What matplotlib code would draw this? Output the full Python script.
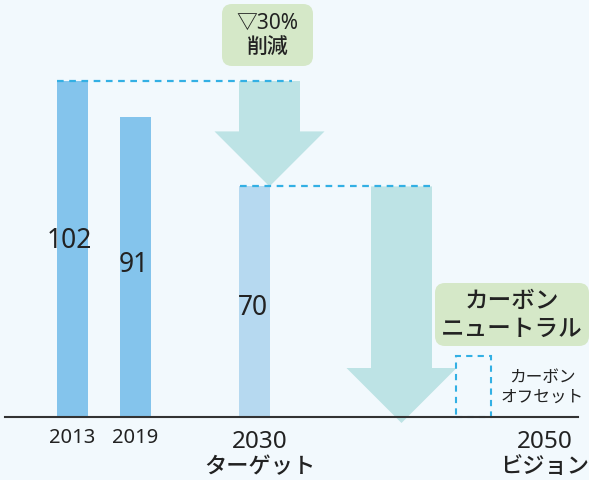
import matplotlib.pyplot as plt
from matplotlib.patches import Polygon, FancyBboxPatch, Rectangle

plt.rcParams["font.family"] = ["Noto Sans", "Noto Sans CJK JP", "DejaVu Sans"]

# data
years = ["2013", "2019"]
actual = [102, 91]
target_year = "2030"
target_sub = "ターゲット"
target = 70
vision_year = "2050"
vision_sub = "ビジョン"
cut_label = "▽30%\n削減"
neutral_label = "カーボン\nニュートラル"
offset_label = "カーボン\nオフセット"

W, H = 589, 481
base_px = 418          # baseline, pixels from top
scale = 336 / 102      # pixels per unit


def py(ypx):
    # pixel row (from top) -> value units
    return (base_px - ypx) / scale


bg = "#f2f9fd"
fig = plt.figure(figsize=(W / 100, H / 100), dpi=100, facecolor=bg)
ax = fig.add_axes([0, 0, 1, 1])
ax.set_facecolor(bg)
ax.set_xlim(0, W)
ax.set_ylim(py(H), py(0))
ax.axis("off")

bar_w = 31
x_act = [72.5, 135.5]
x_tgt = 254.5

ax.bar(x_act, actual, width=bar_w, color="#84c4ec", zorder=2)
ax.bar([x_tgt], [target], width=bar_w, color="#b6d9f0", zorder=2)

arrow_c = "#bde3e5"
head_len = 55 / scale


def down_arrow(xc, top, tip, shaft_w=61, head_w=110):
    neck = tip + head_len
    pts = [(xc - shaft_w / 2, top), (xc + shaft_w / 2, top),
           (xc + shaft_w / 2, neck), (xc + head_w / 2, neck),
           (xc, tip), (xc - head_w / 2, neck), (xc - shaft_w / 2, neck)]
    ax.add_patch(Polygon(pts, closed=True, color=arrow_c, lw=0, zorder=1))


down_arrow(269.5, actual[0], target)
down_arrow(401.5, target, -6 / scale)

dash_c = "#33b0e4"
dash = (0, (3, 2.5))
ax.plot([57, 292], [actual[0], actual[0]], ls=dash, color=dash_c, lw=1.6, zorder=3)
ax.plot([240, 431], [target, target], ls=dash, color=dash_c, lw=1.6, zorder=3)

# offset box
ax.add_patch(Rectangle((455.5, 0), 35, py(357), fill=False, ec=dash_c,
                       lw=1.5, ls=dash, zorder=3))

ax.plot([5, 578], [0, 0], color="#333333", lw=1.5, zorder=4)

txt = "#222222"
ax.text(69, py(241), str(actual[0]), ha="center", va="center", fontsize=19, color=txt, zorder=5)
ax.text(133.5, py(265), str(actual[1]), ha="center", va="center", fontsize=19, color=txt, zorder=5)
ax.text(253, py(308), str(target), ha="center", va="center", fontsize=19, color=txt, zorder=5)

for x, y in zip(x_act, years):
    ax.text(x, py(438), y, ha="center", va="center", fontsize=14.5, color=txt)

ax.text(260, py(442), target_year, ha="center", va="center", fontsize=17.5, color=txt, fontweight="medium")
ax.text(260, py(468), target_sub, ha="center", va="center", fontsize=16, color=txt, fontweight="medium")
ax.text(545, py(442), vision_year, ha="center", va="center", fontsize=17.5, color=txt, fontweight="medium")
ax.text(545, py(468), vision_sub, ha="center", va="center", fontsize=16, color=txt, fontweight="medium")

green = "#d5e8c8"
asp = 1 / scale
ax.add_patch(FancyBboxPatch((232, py(57)), 71, py(15) - py(57),
                            boxstyle="round,pad=10", mutation_aspect=asp,
                            fc=green, ec="none", zorder=4))
ax.text(267.5, py(36), cut_label, ha="center", va="center", fontsize=15,
        color=txt, fontweight="medium", linespacing=1.25, zorder=5)

ax.add_patch(FancyBboxPatch((445, py(337)), 134, py(294) - py(337),
                            boxstyle="round,pad=10", mutation_aspect=asp,
                            fc=green, ec="none", zorder=4))
ax.text(512, py(316), neutral_label, ha="center", va="center", fontsize=17,
        color=txt, fontweight="medium", linespacing=1.2, zorder=5)

ax.text(542, py(388), offset_label, ha="center", va="center", fontsize=12,
        color=txt, linespacing=1.35, zorder=5)

fig.savefig("out.png", dpi=100, facecolor=bg)
